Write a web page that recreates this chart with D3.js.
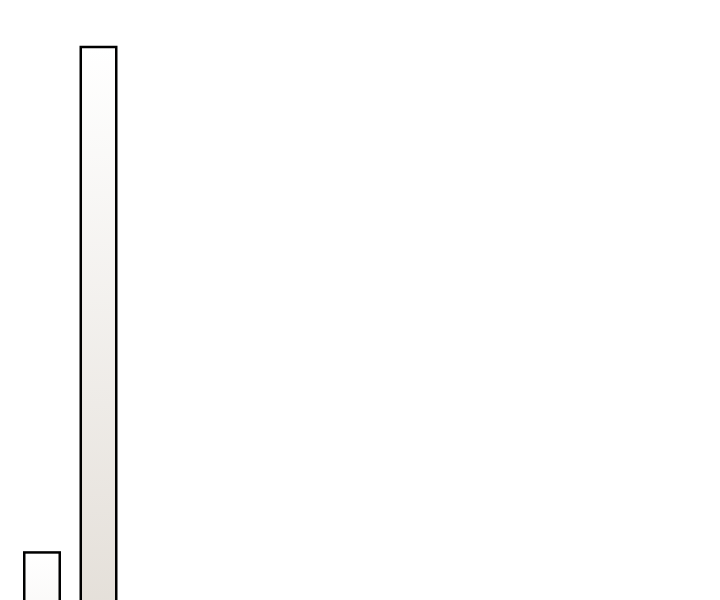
<!DOCTYPE html>
<html>
<head>
<meta charset="utf-8">
<script src="https://cdn.jsdelivr.net/npm/d3@7"></script>
<style>
  html, body { margin: 0; padding: 0; background: #fff; overflow: hidden; }
  svg { display: block; }
</style>
</head>
<body>
<svg id="chart" width="720" height="600"></svg>
<script>
// the picture is a crop: both bars run past the bottom edge
var categories = ['A', 'B'];
var values = [52, 100];

var svg = d3.select('#chart');
var baseline = 1100;

var x = d3.scaleBand()
  .domain(categories)
  .range([7.3, 133.2])
  .paddingInner(0.372)
  .paddingOuter(0.3);

var y = d3.scaleLinear()
  .domain([0, 100])
  .range([baseline, 47]);

var grad = svg.append('defs').append('linearGradient')
  .attr('id', 'barFill')
  .attr('x1', 0).attr('y1', 0)
  .attr('x2', 0).attr('y2', 1);
grad.append('stop').attr('offset', '0%').attr('stop-color', '#ffffff');
grad.append('stop').attr('offset', '100%').attr('stop-color', '#cdc4b8');

svg.selectAll('rect.bar')
  .data(values)
  .enter().append('rect')
  .attr('class', 'bar')
  .attr('x', function(d, i){ return x(categories[i]); })
  .attr('width', x.bandwidth())
  .attr('y', function(d){ return y(d); })
  .attr('height', function(d){ return baseline - y(d); })
  .attr('fill', 'url(#barFill)')
  .attr('stroke', '#000')
  .attr('stroke-width', 2.5);
</script>
</body>
</html>
